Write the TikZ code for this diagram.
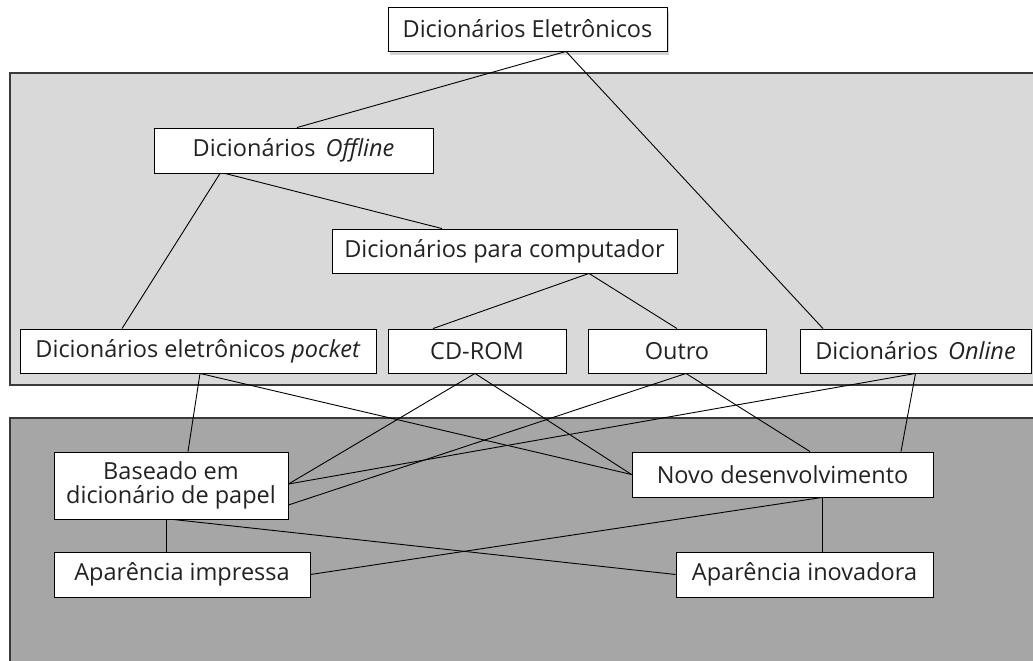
\documentclass[tikz,border=0pt]{standalone}
\usepackage{fontspec}
\setmainfont{Open Sans}
\usetikzlibrary{shadows}
\definecolor{panelA}{HTML}{D9D9D9}
\definecolor{panelB}{HTML}{A6A6A6}
\definecolor{edgegray}{HTML}{3A3A3A}
\definecolor{txt}{HTML}{222222}
\begin{document}
\begin{tikzpicture}[x=1pt,y=-1pt,
  box/.style={draw=black, line width=0.9pt, fill=white, rectangle, inner sep=0pt,
    text=txt, font=\fontsize{23.5}{25}\selectfont, align=center},
  panel/.style={draw=edgegray, line width=1.2pt},
  link/.style={draw=black, line width=0.9pt}]
\useasboundingbox (0,0) rectangle (1033,661);
% panels
\path[panel, fill=panelA] (10,73) rectangle (1045,385);
\path[panel, fill=panelB] (10,418) rectangle (1045,680);
% nodes
\node[box, minimum width=279pt, minimum height=44pt, drop shadow={shadow xshift=2pt, shadow yshift=-4pt, opacity=0.35}] (top) at (527.5,29) {Dicionários Eletrônicos};
\node[box, minimum width=279pt, minimum height=45pt] (off) at (293.5,150.5) {Dicionários\, \textit{Offline}};
\node[box, minimum width=345pt, minimum height=44pt] (pc) at (504.5,251) {Dicionários para computador};
\node[box, minimum width=356pt, minimum height=44pt] (pocket) at (198,351) {Dicionários eletrônicos \textit{pocket}};
\node[box, minimum width=178pt, minimum height=44pt] (cd) at (477,351) {CD-ROM};
\node[box, minimum width=178pt, minimum height=44pt] (outro) at (677,351) {Outro};
\node[box, minimum width=231pt, minimum height=44pt] (online) at (915.5,351) {Dicionários\, \textit{Online}};
\node[box, minimum width=234pt, minimum height=67pt] (base) at (171,485.5) {Baseado em\\[-1pt]dicionário de papel};
\node[box, minimum width=256pt, minimum height=45pt] (impr) at (182,574.5) {Aparência impressa};
\node[box, minimum width=301pt, minimum height=45pt] (novo) at (782.5,474.5) {Novo desenvolvimento};
\node[box, minimum width=257pt, minimum height=45pt] (inov) at (804.5,574.5) {Aparência inovadora};
% connectors
\draw[link] ([xshift=38.5pt]top.south) -- ([xshift=3.5pt]off.north);
\draw[link] ([xshift=38.5pt]top.south) -- ([xshift=-92.5pt]online.north);
\draw[link] ([xshift=-73.5pt]off.south) -- ([xshift=-76pt]pocket.north);
\draw[link] ([xshift=-68.5pt]off.south) -- ([xshift=-62.5pt]pc.north);
\draw[link] ([xshift=84.5pt]pc.south) -- ([xshift=-44pt]cd.north);
\draw[link] ([xshift=84.5pt]pc.south) -- (outro.north);
\draw[link] ([xshift=2pt]pocket.south) -- ([xshift=17pt]base.north);
\draw[link] ([xshift=2pt]pocket.south) -- (novo.west);
\draw[link] ([xshift=-2pt]cd.south) -- ([yshift=1.5pt]base.east);
\draw[link] ([xshift=-2pt]cd.south) -- (novo.west);
\draw[link] ([xshift=9pt]outro.south) -- ([yshift=-19.5pt]base.east);
\draw[link] ([xshift=9pt]outro.south) -- ([xshift=27.5pt]novo.north);
\draw[link] (online.south) -- ([yshift=1.5pt]base.east);
\draw[link] (online.south) -- ([xshift=118.5pt]novo.north);
\draw[link] ([xshift=-5pt]base.south) -- ([xshift=-16pt]impr.north);
\draw[link] ([xshift=2pt]base.south) -- (inov.west);
\draw[link] ([xshift=39.5pt]novo.south) -- (impr.east);
\draw[link] ([xshift=39.5pt]novo.south) -- ([xshift=17.5pt]inov.north);
\end{tikzpicture}
\end{document}
